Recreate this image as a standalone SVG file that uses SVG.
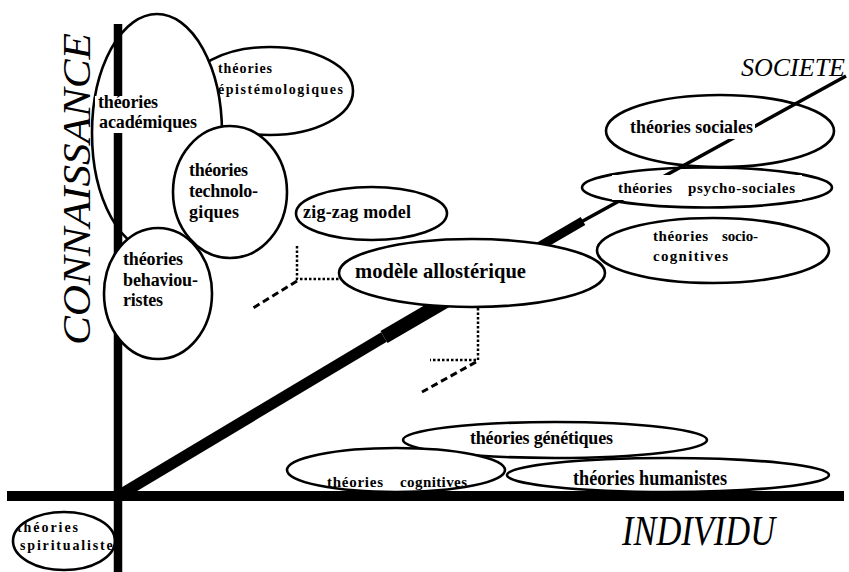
<svg xmlns="http://www.w3.org/2000/svg" width="849" height="572" viewBox="0 0 849 572" font-family="Liberation Serif, Times New Roman, serif">
<style>
.e{fill:#fff;stroke:#000;stroke-width:2.6}
.o{fill:none;stroke:#000;stroke-width:2.6}
.bg{fill:#fff;stroke:none}
.t{font-weight:bold;fill:#000}
.ax{font-style:italic;fill:#000}
.axis{stroke:#000;fill:none}
.dot{stroke:#000;fill:none;stroke-width:2.5;stroke-dasharray:2.5 2}
.dash{stroke:#000;fill:none;stroke-width:3;stroke-dasharray:7 4}
</style>
<defs>
<mask id="mAcad" maskUnits="userSpaceOnUse" x="0" y="0" width="849" height="572">
<rect width="849" height="572" fill="#fff"/>
<ellipse cx="157" cy="133" rx="65" ry="119" fill="#000"/>
</mask>
<clipPath id="cSpir"><ellipse cx="64" cy="541" rx="50" ry="28"/></clipPath>
</defs>
<rect width="849" height="572" fill="#fff"/>

<g id="connectors">
<line class="axis" x1="118" y1="24" x2="118" y2="572" stroke-width="8.5"/>
<line class="axis" x1="7" y1="496" x2="844" y2="496" stroke-width="10"/>
<line class="axis" x1="118" y1="496" x2="384" y2="337" stroke-width="11"/>
<line class="axis" x1="384" y1="337" x2="500" y2="269.4" stroke-width="14"/>
<line class="axis" x1="495" y1="272.3" x2="583" y2="221" stroke-width="9"/>
<line class="axis" x1="581" y1="222" x2="846" y2="76" stroke-width="3.5"/>
<polyline class="dot" points="297,246 297,279 340,279"/>
<line class="dash" x1="297" y1="281" x2="253" y2="308"/>
<polyline class="dot" points="478,308 478,360 430,360"/>
<line class="dash" x1="476" y1="362" x2="422" y2="392"/>
</g>

<g id="n-epistemo">
<ellipse class="e" cx="270" cy="91" rx="83" ry="44" mask="url(#mAcad)"/>
<text class="t" x="218" y="73" font-size="14" textLength="54">théories</text>
<text class="t" x="218" y="94" font-size="14" textLength="125">épistémologiques</text>
</g>

<g id="n-academiques">
<ellipse class="o" cx="157" cy="133" rx="65" ry="119"/>
<rect class="bg" x="95" y="96" width="117" height="37"/>
<text class="t" x="98" y="108" font-size="18" textLength="60">théories</text>
<text class="t" x="99" y="128" font-size="18" textLength="98">académiques</text>
</g>

<g id="n-technologiques">
<ellipse class="e" cx="230" cy="192" rx="57" ry="66"/>
<text class="t" x="189" y="176" font-size="18" textLength="59">théories</text>
<text class="t" x="189" y="197" font-size="18" textLength="69">technolo-</text>
<text class="t" x="189" y="218" font-size="18" textLength="50">giques</text>
</g>

<g id="n-behaviouristes">
<ellipse class="e" cx="158" cy="293.5" rx="54" ry="65.5"/>
<text class="t" x="123" y="265" font-size="18" textLength="60">théories</text>
<text class="t" x="123" y="286" font-size="18" textLength="75">behaviou-</text>
<text class="t" x="123" y="306" font-size="18" textLength="40">ristes</text>
</g>

<g id="n-zigzag">
<ellipse class="e" cx="371.5" cy="213.5" rx="75.5" ry="26.5"/>
<text class="t" x="303" y="218" font-size="18" textLength="108">zig-zag model</text>
</g>

<g id="n-modele">
<ellipse class="e" cx="472" cy="273" rx="133" ry="34"/>
<text class="t" x="355" y="278" font-size="22" textLength="171" lengthAdjust="spacingAndGlyphs">modèle allostérique</text>
</g>

<g id="n-sociales">
<ellipse class="o" cx="720" cy="131" rx="114" ry="36"/>
<rect class="bg" x="625" y="113" width="130" height="26"/>
<text class="t" x="630" y="133" font-size="19" textLength="123" lengthAdjust="spacingAndGlyphs">théories sociales</text>
</g>

<g id="n-psycho">
<ellipse class="o" cx="707" cy="187.5" rx="125" ry="20"/>
<rect class="bg" x="612" y="175" width="190" height="25"/>
<text class="t" x="618" y="193" font-size="15" textLength="54">théories</text>
<text class="t" x="688" y="193" font-size="15" textLength="107">psycho-sociales</text>
</g>

<g id="n-sociocog">
<ellipse class="e" cx="713" cy="250.5" rx="116" ry="32.5"/>
<text class="t" x="653" y="241" font-size="15" textLength="55">théories</text>
<text class="t" x="722" y="241" font-size="15" textLength="36">socio-</text>
<text class="t" x="653" y="261" font-size="15" textLength="75">cognitives</text>
</g>

<g id="n-genetiques">
<ellipse class="e" cx="555" cy="440" rx="152" ry="18"/>
<text class="t" x="470" y="444" font-size="18" textLength="143">théories génétiques</text>
</g>

<g id="n-cognitives">
<ellipse class="e" cx="396" cy="470" rx="109" ry="22"/>
<text class="t" x="327" y="487" font-size="15" textLength="56">théories</text>
<text class="t" x="400" y="487" font-size="15" textLength="67">cognitives</text>
</g>

<g id="n-humanistes">
<ellipse class="e" cx="668" cy="475" rx="161" ry="17"/>
<text class="t" x="573" y="485" font-size="20" textLength="154" lengthAdjust="spacingAndGlyphs">théories humanistes</text>
</g>

<g id="n-spiritualistes">
<g clip-path="url(#cSpir)">
<text class="t" x="17" y="532" font-size="14" textLength="61">théories</text>
<text class="t" x="20" y="550" font-size="14" textLength="100">spiritualistes</text>
</g>
<ellipse class="o" cx="64" cy="541" rx="51" ry="29"/>
</g>

<g id="axis-labels">
<text class="ax" transform="translate(90,345) rotate(-90)" font-size="41" textLength="312" lengthAdjust="spacingAndGlyphs">CONNAISSANCE</text>
<text class="ax" x="741" y="76" font-size="26" textLength="104" lengthAdjust="spacingAndGlyphs">SOCIETE</text>
<text class="ax" x="622" y="545" font-size="42" textLength="153" lengthAdjust="spacingAndGlyphs">INDIVIDU</text>
</g>
</svg>
